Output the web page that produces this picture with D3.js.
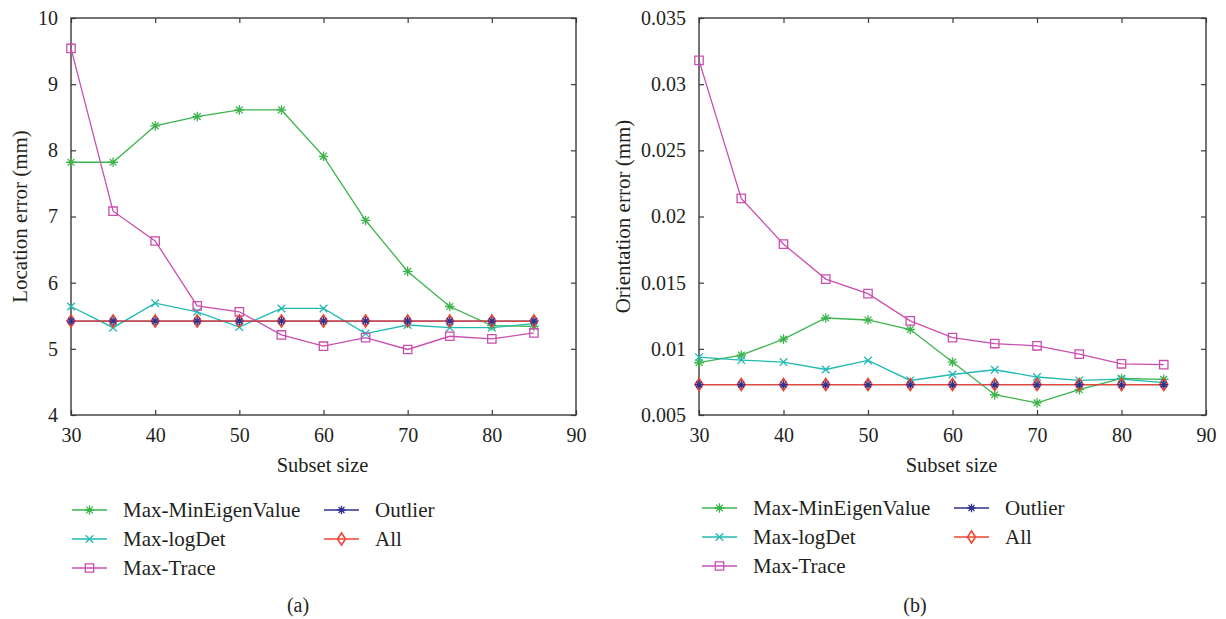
<!DOCTYPE html>
<html>
<head>
<meta charset="utf-8">
<script src="https://cdn.jsdelivr.net/npm/d3@7"></script>
<style>
  html, body { margin: 0; padding: 0; background: #fff; }
  svg { display: block; }
  text { font-family: "Liberation Serif", "Times New Roman", serif; fill: #231f20; }
</style>
</head>
<body>
<svg id="chart" width="1226" height="619"></svg>
<script>
// Subset sizes shared by both panels
const subsetSizes = [30, 35, 40, 45, 50, 55, 60, 65, 70, 75, 80, 85];

// Panel (a): location error (mm)
const locMinEigen = [7.82, 7.82, 8.37, 8.51, 8.61, 8.61, 7.91, 6.94, 6.17, 5.64, 5.35, 5.34];
const locLogDet   = [5.64, 5.32, 5.69, 5.56, 5.33, 5.61, 5.61, 5.23, 5.36, 5.32, 5.32, 5.38];
const locTrace    = [9.54, 7.08, 6.63, 5.65, 5.56, 5.21, 5.04, 5.17, 4.99, 5.19, 5.15, 5.24];
const locOutlier  = [5.42, 5.42, 5.42, 5.42, 5.42, 5.42, 5.42, 5.42, 5.42, 5.42, 5.42, 5.42];
const locAll      = [5.42, 5.42, 5.42, 5.42, 5.42, 5.42, 5.42, 5.42, 5.42, 5.42, 5.42, 5.42];

// Panel (b): orientation error (mm)
const oriMinEigen = [0.00895, 0.00952, 0.01073, 0.01233, 0.01218, 0.01146, 0.00900, 0.00653, 0.00592, 0.00692, 0.00776, 0.00769];
const oriLogDet   = [0.00937, 0.00915, 0.00900, 0.00844, 0.00912, 0.00761, 0.00806, 0.00842, 0.00787, 0.00761, 0.00771, 0.00744];
const oriTrace    = [0.0318, 0.02137, 0.01791, 0.01527, 0.01417, 0.01211, 0.01085, 0.01040, 0.01023, 0.00960, 0.00887, 0.00880];
const oriOutlier  = [0.0073, 0.0073, 0.0073, 0.0073, 0.0073, 0.0073, 0.0073, 0.0073, 0.0073, 0.0073, 0.0073, 0.0073];
const oriAll      = [0.0073, 0.0073, 0.0073, 0.0073, 0.0073, 0.0073, 0.0073, 0.0073, 0.0073, 0.0073, 0.0073, 0.0073];

// Tick values and labels
const xTicks = [30, 40, 50, 60, 70, 80, 90];
const locTicks = [4, 5, 6, 7, 8, 9, 10];
const locTickLabels = ["4", "5", "6", "7", "8", "9", "10"];
const oriTicks = [0.005, 0.01, 0.015, 0.02, 0.025, 0.03, 0.035];
const oriTickLabels = ["0.005", "0.01", "0.015", "0.02", "0.025", "0.03", "0.035"];

const seriesNames = ["Max-MinEigenValue", "Max-logDet", "Max-Trace", "Outlier", "All"];
const seriesColors = {
  "Max-MinEigenValue": "#3cb44b",
  "Max-logDet": "#1fbab3",
  "Max-Trace": "#c84fb0",
  "Outlier": "#2e3192",
  "All": "#ef4634"
};
const seriesMarkers = {
  "Max-MinEigenValue": "asterisk",
  "Max-logDet": "cross",
  "Max-Trace": "square",
  "Outlier": "star",
  "All": "diamond"
};

const svg = d3.select("#chart");

// Marker glyph paths centred on (0,0)
function markerPath(kind) {
  const p = d3.path();
  if (kind === "asterisk" || kind === "star") {
    const r = kind === "asterisk" ? 4.8 : 4.2;
    const d = r * Math.SQRT1_2;
    p.moveTo(-r, 0); p.lineTo(r, 0);
    p.moveTo(0, -r); p.lineTo(0, r);
    p.moveTo(-d, -d); p.lineTo(d, d);
    p.moveTo(-d, d); p.lineTo(d, -d);
  } else if (kind === "cross") {
    const r = 3.8;
    p.moveTo(-r, -r); p.lineTo(r, r);
    p.moveTo(-r, r); p.lineTo(r, -r);
  } else if (kind === "square") {
    const r = 4.2;
    p.rect(-r, -r, 2 * r, 2 * r);
  } else if (kind === "diamond") {
    p.moveTo(0, -6); p.lineTo(4, 0); p.lineTo(0, 6); p.lineTo(-4, 0); p.closePath();
  }
  return p.toString();
}

function drawMarkers(g, pts, name) {
  const kind = seriesMarkers[name];
  g.selectAll(null).data(pts).join("path")
    .attr("transform", d => `translate(${d[0]},${d[1]})`)
    .attr("d", markerPath(kind))
    .attr("fill", kind === "square" || kind === "diamond" ? "#fff" : "none")
    .attr("fill-opacity", kind === "diamond" ? 0.0 : 0)
    .attr("stroke", seriesColors[name])
    .attr("stroke-width", kind === "diamond" ? 1.6 : 1.3);
}

function drawPanel(cfg) {
  const { left, right, top, bottom, yDomain, yTicks, yLabels, series, yTitle, yTitleX, panelLabel, legend } = cfg;
  const x = d3.scaleLinear().domain([30, 90]).range([left, right]);
  const y = d3.scaleLinear().domain(yDomain).range([bottom, top]);
  const g = svg.append("g");

  // Axes: box frame with inward ticks on every side
  const axisStyle = sel => {
    sel.select(".domain").remove();
    sel.selectAll(".tick line").attr("stroke", "#3a3a3a").attr("stroke-width", 1.2);
    sel.selectAll(".tick text").attr("font-size", 20).attr("font-family", "Liberation Serif").attr("fill", "#231f20");
  };
  g.append("g").attr("transform", `translate(0,${bottom})`)
    .call(d3.axisBottom(x).tickValues(xTicks).tickSizeInner(-5).tickSizeOuter(0).tickPadding(13).tickFormat(d3.format("d")))
    .call(axisStyle);
  g.append("g").attr("transform", `translate(0,${top})`)
    .call(d3.axisTop(x).tickValues(xTicks).tickSizeInner(-5).tickSizeOuter(0).tickFormat(""))
    .call(axisStyle);
  g.append("g").attr("transform", `translate(${left},0)`)
    .call(d3.axisLeft(y).tickValues(yTicks).tickSizeInner(-5).tickSizeOuter(0).tickPadding(13)
      .tickFormat((d, i) => yLabels[i]))
    .call(axisStyle);
  g.append("g").attr("transform", `translate(${right},0)`)
    .call(d3.axisRight(y).tickValues(yTicks).tickSizeInner(-5).tickSizeOuter(0).tickFormat(""))
    .call(axisStyle);
  g.append("rect")
    .attr("x", left).attr("y", top).attr("width", right - left).attr("height", bottom - top)
    .attr("fill", "none").attr("stroke", "#3a3a3a").attr("stroke-width", 1.4);

  const line = d3.line().x(d => d[0]).y(d => d[1]);
  const pointsOf = vals => subsetSizes.map((s, i) => [x(s), y(vals[i])]);

  // Lines first, then markers; the Outlier stars sit on top of the All diamonds
  const order = ["Max-MinEigenValue", "Max-logDet", "Max-Trace", "Outlier", "All"];
  order.forEach(name => {
    g.append("path").datum(pointsOf(series[name]))
      .attr("d", line).attr("fill", "none")
      .attr("stroke", seriesColors[name]).attr("stroke-width", 1.3);
  });
  ["Max-MinEigenValue", "Max-logDet", "Max-Trace", "All", "Outlier"].forEach(name => {
    drawMarkers(g.append("g"), pointsOf(series[name]), name);
  });

  // Axis titles
  g.append("text")
    .attr("x", (left + right) / 2 - 1).attr("y", 472)
    .attr("text-anchor", "middle").attr("font-size", 20.5)
    .text("Subset size");
  g.append("text")
    .attr("transform", `translate(${yTitleX},${(top + bottom) / 2}) rotate(-90)`)
    .attr("text-anchor", "middle").attr("font-size", 21)
    .text(yTitle);

  // Legend: two columns
  legend.forEach(item => {
    const lg = g.append("g");
    lg.append("line")
      .attr("x1", item.x).attr("x2", item.x + 35).attr("y1", item.y).attr("y2", item.y)
      .attr("stroke", seriesColors[item.name]).attr("stroke-width", 1.3);
    drawMarkers(lg, [[item.x + 17.5, item.y]], item.name);
    lg.append("text")
      .attr("x", item.x + 51).attr("y", item.y).attr("dy", "0.35em")
      .attr("font-size", 21)
      .text(item.name);
  });

  // Panel label
  g.append("text")
    .attr("x", panelLabel.x).attr("y", 612)
    .attr("text-anchor", "middle").attr("font-size", 20)
    .text(panelLabel.text);
}

function legendItems(c1, c2, yStart) {
  return [
    { name: seriesNames[0], x: c1, y: yStart },
    { name: seriesNames[1], x: c1, y: yStart + 29 },
    { name: seriesNames[2], x: c1, y: yStart + 58 },
    { name: seriesNames[3], x: c2, y: yStart },
    { name: seriesNames[4], x: c2, y: yStart + 29 }
  ];
}

drawPanel({
  left: 71, right: 576, top: 18, bottom: 415,
  yDomain: [4, 10], yTicks: locTicks, yLabels: locTickLabels,
  series: { "Max-MinEigenValue": locMinEigen, "Max-logDet": locLogDet, "Max-Trace": locTrace, "Outlier": locOutlier, "All": locAll },
  yTitle: "Location error (mm)", yTitleX: 27,
  panelLabel: { text: "(a)", x: 298 },
  legend: legendItems(72, 324, 510)
});

drawPanel({
  left: 699, right: 1206, top: 18, bottom: 415,
  yDomain: [0.005, 0.035], yTicks: oriTicks, yLabels: oriTickLabels,
  series: { "Max-MinEigenValue": oriMinEigen, "Max-logDet": oriLogDet, "Max-Trace": oriTrace, "Outlier": oriOutlier, "All": oriAll },
  yTitle: "Orientation error (mm)", yTitleX: 630,
  panelLabel: { text: "(b)", x: 915 },
  legend: legendItems(702, 954, 508)
});
</script>
</body>
</html>
